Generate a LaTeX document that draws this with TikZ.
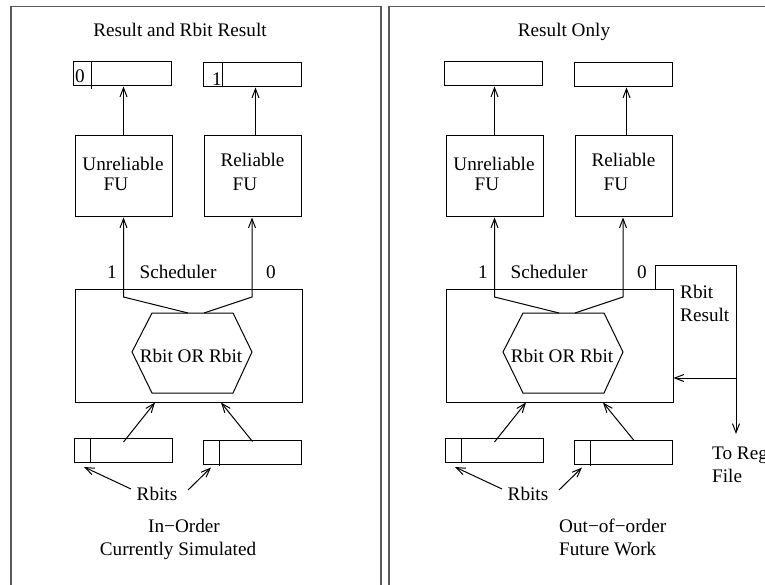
\documentclass[tikz,border=0pt]{standalone}
\usepackage{fontspec}
\setmainfont{Liberation Serif}
\usetikzlibrary{arrows.meta}

\tikzset{
  ln/.style={line width=1pt},
  arr/.style={ln,-{Straight Barb[length=9pt,width=7pt,line width=1pt]}},
  frame/.style={line width=1.3pt,draw=black!65},
  reg/.style={draw,ln,inner sep=0pt,minimum width=98pt,minimum height=24pt},
  fubox/.style={draw,ln,inner sep=0pt,minimum width=97pt,minimum height=81pt},
  schedbox/.style={draw,ln,inner sep=0pt,minimum width=227pt,minimum height=113pt},
  lbl/.style={inner sep=0pt,anchor=base,font=\fontsize{19.2}{22}\selectfont},
  lbll/.style={lbl,anchor=base west},
}

% Parts shared by both panels (local coordinates, y grows downwards)
\newcommand\panelparts{%
  % result registers
  \node[reg] (ures) at (122,74) {};
  \node[reg] (rres) at (252.5,75) {};
  % functional units
  \node[fubox] (ufu) at (123.5,176.5) {};
  \node[fubox] (rfu) at (253,176.5) {};
  \node[lbl] (ulab) at (123,171) {Unreliable};
  \node[lbl] (ufulab) at (116,191) {FU};
  \node[lbl] (rlab) at (252.5,167) {Reliable};
  \node[lbl] (rfulab) at (245,191) {FU};
  \draw[arr] (ufu.north) -- (ufu.north |- ures.south);
  \draw[arr] ([xshift=2.5pt]rfu.north) -- ([xshift=2.5pt]rfu.north |- rres.south);
  % scheduler
  \node[schedbox] (sch) at (188.5,345.5) {};
  \node[lbl] (schlab) at (178,278) {Scheduler};
  \node[lbl] (one) at (112,278) {1};
  \node[lbl] (zero) at (271,278) {0};
  \draw[ln] (152,313) coordinate (hxa) -- (233,313) coordinate (hxb)
    -- (252,352) -- (233,393) -- (152,393) -- (132,352) -- cycle;
  \node[lbl] (orlab) at (191,362) {Rbit OR Rbit};
  \coordinate (hx1) at (188,313);
  \coordinate (hx2) at (204,313);
  \coordinate (bend1) at (123.5,297);
  \coordinate (bend2) at (252,297);
  \draw[arr] (hx1) -- (bend1) -- (ufu.south);
  \draw[arr] (hx2) -- (bend2) -- ([xshift=-1pt]rfu.south);
  % source registers
  \node[reg] (uin) at (123.5,450.5) {};
  \node[reg] (rin) at (252.5,452) {};
  \draw[ln] ([xshift=16pt]uin.north west) -- ([xshift=16pt]uin.south west);
  \draw[ln] ([xshift=16pt]rin.north west) -- ([xshift=16pt,yshift=-1pt]rin.south west);
  \draw[arr] ([yshift=-4pt]uin.north) -- ([xshift=-33.5pt]sch.south);
  % Rbits pointers
  \node[lbl] (rbits) at (157,500) {Rbits};
  \coordinate (rb1) at (131,489);
  \coordinate (rb2) at (188,490);
  \draw[arr] (rb1) -- ([xshift=10pt,yshift=-4pt]uin.south west);
  \draw[arr] (rb2) -- ([xshift=8pt,yshift=-3pt]rin.south west);
}

\begin{document}
\begin{tikzpicture}[x=1pt,y=-1pt]
  \useasboundingbox (0,0) rectangle (765,585);
  \clip (0,0) rectangle (765,585);
  \fill[white] (0,0) rectangle (765,585);

  % panel frames
  \draw[frame] (11,620) -- (11,6.5) -- (381,6.5) -- (381,620);
  \draw[frame] (389,620) -- (389,6.5) -- (820,6.5) -- (820,620);

  % ---- left panel: in-order
  \begin{scope}[name prefix=L-]
    \panelparts
    \node[lbl] (title) at (180,37) {Result and Rbit Result};
    \draw[ln] (91,62) -- (91,89);
    \node[lbl] (ubit) at (80,83) {0};
    \draw[ln] ([xshift=19pt]rres.north west) -- ([xshift=19pt]rres.south west);
    \node[lbl] (rbit) at (217,86) {1};
    \draw[arr] ([yshift=-2pt]rin.north) -- ([xshift=32.5pt]sch.south);
    \node[lbl] (cap1) at (184,532) {In−Order};
    \node[lbl] (cap2) at (178,555) {Currently Simulated};
  \end{scope}

  % ---- right panel: out-of-order
  \begin{scope}[xshift=371pt,name prefix=R-]
    \panelparts
    \node[lbl] (title) at (193,37) {Result Only};
    \draw[arr] ([xshift=10.5pt,yshift=-1pt]rin.north) -- ([xshift=43.5pt]sch.south);
    \node[lbll] (cap1) at (188,532) {Out−of−order};
    \node[lbll] (cap2) at (188,555) {Future Work};
  \end{scope}

  % Rbit result feedback loop and path to the register file
  \coordinate (lpa) at (655,265);
  \coordinate (lpb) at (736,265);
  \coordinate (fb) at (736,378);
  \coordinate (regout) at (736,434);
  \draw[ln] (R-sch.north -| lpa) -- (lpa) -- (lpb) -- (fb);
  \draw[arr] (fb) -- (regout);
  \draw[arr] (fb) -- (R-sch.east |- fb);
  \node[lbll] (rrlab1) at (680,298) {Rbit};
  \node[lbll] (rrlab2) at (680,321) {Result};
  \node[lbll] (tolab1) at (712,459) {To Reg};
  \node[lbll] (tolab2) at (712,482) {File};
\end{tikzpicture}
\end{document}
